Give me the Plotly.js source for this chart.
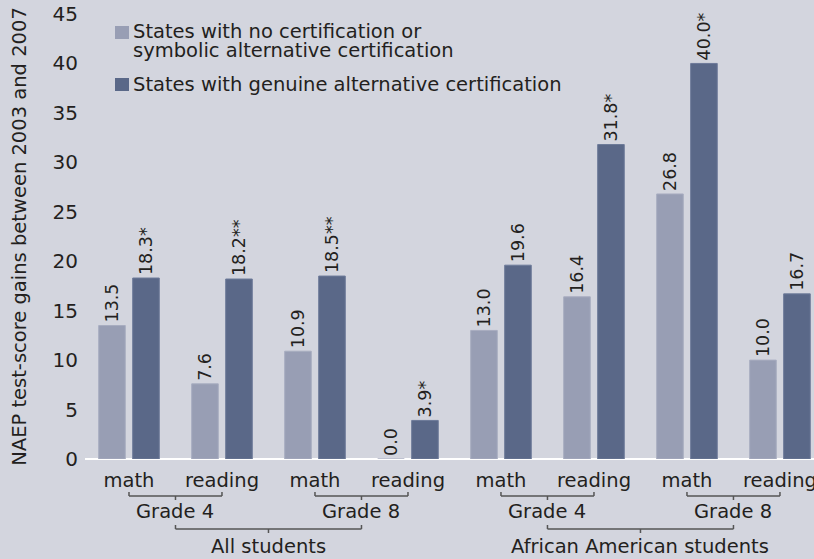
<!DOCTYPE html>
<html>
<head>
<meta charset="utf-8">
<script src="https://cdn.plot.ly/plotly-3.0.1.min.js"></script>
<style>
html, body { margin: 0; padding: 0; background: #d3d5de; }
#chart { width: 814px; height: 559px; }
</style>
</head>
<body>
<div id="chart"></div>
<script>
// ---- data ----
const subjects = ['math', 'reading', 'math', 'reading', 'math', 'reading', 'math', 'reading'];
const grades = ['Grade 4', 'Grade 8', 'Grade 4', 'Grade 8'];
const studentGroups = ['All students', 'African American students'];
const seriesNames = ['States with no certification or symbolic alternative certification',
                     'States with genuine alternative certification'];
const legendLines1 = ['States with no certification or', 'symbolic alternative certification'];
const legendLines2 = ['States with genuine alternative certification'];
const noCertValues = [13.5, 7.6, 10.9, 0.0, 13.0, 16.4, 26.8, 10.0];
const noCertLabels = ['13.5', '7.6', '10.9', '0.0', '13.0', '16.4', '26.8', '10.0'];
const genuineValues = [18.3, 18.2, 18.5, 3.9, 19.6, 31.8, 40.0, 16.7];
const genuineLabels = ['18.3*', '18.2**', '18.5**', '3.9*', '19.6', '31.8*', '40.0*', '16.7'];
const yTitle = 'NAEP test-score gains between 2003 and 2007';

// ---- styles ----
const BG = '#d3d5de';
const LIGHT = '#989eb4';
const DARK = '#5a6888';
const TXT = '#231f20';
const BRACKET = '#555555';
const FONT = 'DejaVu Sans, sans-serif';
const FS = 19.5;

const xs = subjects.map((_, i) => i);

const traces = [
  {
    type: 'bar', name: seriesNames[0], x: xs, y: noCertValues,
    text: noCertLabels, textposition: 'outside', textangle: -90,
    textfont: {family: FONT, size: 17.5, color: TXT},
    cliponaxis: false, constraintext: 'none',
    marker: {color: LIGHT, line: {color: '#a8adc0', width: 1}},
    hoverinfo: 'skip'
  },
  {
    type: 'bar', name: seriesNames[1], x: xs, y: genuineValues,
    text: genuineLabels, textposition: 'outside', textangle: -90,
    textfont: {family: FONT, size: 17.5, color: TXT},
    cliponaxis: false, constraintext: 'none',
    marker: {color: DARK, line: {color: '#6d7a99', width: 1}},
    hoverinfo: 'skip'
  }
];

const shapes = [];
const annotations = [];
function pxLine(x0, x1, y0, y1) {
  shapes.push({type: 'line', xref: 'x', yref: 'paper', ysizemode: 'pixel', yanchor: 0,
    x0: x0, x1: x1, y0: y0, y1: y1, line: {color: BRACKET, width: 1.5}});
}
// grade brackets
for (let g = 0; g < grades.length; g++) {
  const a = g * 2, b = g * 2 + 1, m = (a + b) / 2;
  pxLine(a, b, -37, -37);
  pxLine(a, a, -37, -33);
  pxLine(b, b, -37, -33);
  pxLine(m, m, -37, -41);
  annotations.push({text: grades[g], xref: 'x', yref: 'paper', x: m, y: 0, yshift: -52,
    xanchor: 'center', yanchor: 'middle', showarrow: false,
    font: {family: FONT, size: FS, color: TXT}});
}
// student group brackets
for (let s = 0; s < studentGroups.length; s++) {
  const a = s * 4 + 0.5, b = s * 4 + 2.5, m = (a + b) / 2;
  pxLine(a, b, -70, -70);
  pxLine(a, a, -70, -66);
  pxLine(b, b, -70, -66);
  pxLine(m, m, -70, -74);
  annotations.push({text: studentGroups[s], xref: 'x', yref: 'paper', x: m, y: 0, yshift: -87,
    xanchor: 'center', yanchor: 'middle', showarrow: false,
    font: {family: FONT, size: FS, color: TXT}});
}
// custom legend
function legendSquare(color, top) {
  shapes.push({type: 'rect', xref: 'paper', yref: 'paper', xsizemode: 'pixel', ysizemode: 'pixel',
    xanchor: 0, yanchor: 1, x0: 30, x1: 44, y0: -top, y1: -(top + 13),
    fillcolor: color, line: {width: 0}});
}
function legendText(t, yshift) {
  annotations.push({text: t, xref: 'paper', yref: 'paper', x: 0, y: 1, xshift: 47, yshift: yshift,
    xanchor: 'left', yanchor: 'middle', showarrow: false, borderpad: 0,
    font: {family: FONT, size: FS, color: TXT}});
}
legendSquare(LIGHT, 12);
legendText(legendLines1[0], -17);
legendText(legendLines1[1], -36);
legendSquare(DARK, 64);
legendText(legendLines2[0], -70);

const layout = {
  width: 814, height: 559,
  paper_bgcolor: BG, plot_bgcolor: BG,
  margin: {l: 85, r: 0, t: 14, b: 100},
  barmode: 'group', bargap: 0.269, bargroupgap: 0.218,
  showlegend: false,
  font: {family: FONT, color: TXT},
  xaxis: {
    range: [-0.473, 7.366], tickvals: xs, ticktext: subjects,
    showgrid: false, zeroline: false, showline: false, ticks: '',
    ticklabeloverflow: 'allow',
    tickfont: {family: FONT, size: FS, color: TXT}, ticklabelstandoff: 7
  },
  yaxis: {
    range: [0, 45], tick0: 0, dtick: 5,
    showgrid: false, zeroline: true, zerolinecolor: '#ffffff', zerolinewidth: 1.5,
    showline: false, ticks: '',
    tickfont: {family: FONT, size: 20, color: TXT}, ticklabelstandoff: 6,
    title: {text: yTitle, font: {family: FONT, size: FS, color: TXT}, standoff: 20}
  },
  shapes: shapes,
  annotations: annotations
};

Plotly.newPlot('chart', traces, layout, {displayModeBar: false, staticPlot: true});
</script>
</body>
</html>
